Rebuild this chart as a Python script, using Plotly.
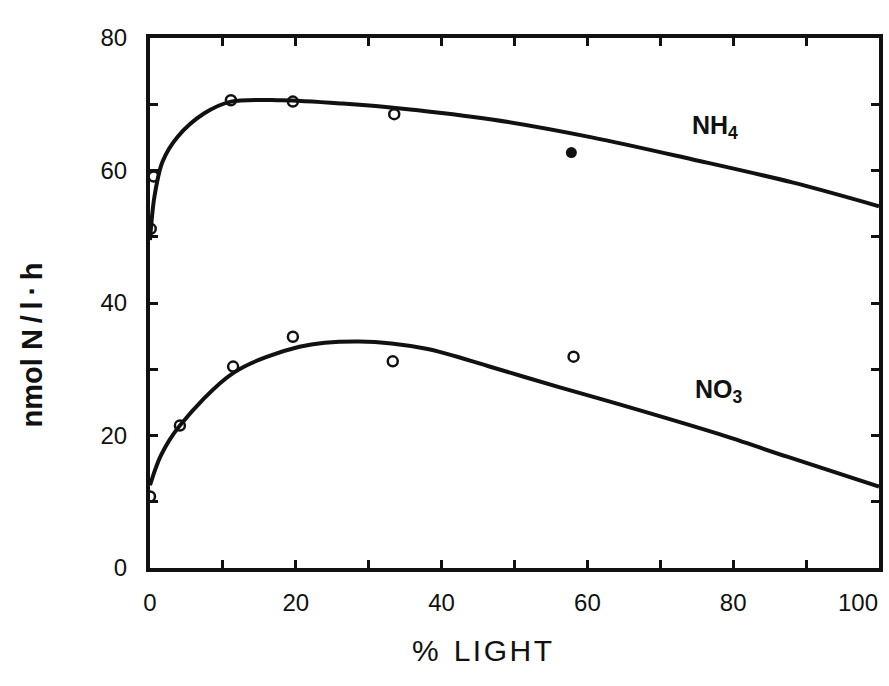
import plotly.graph_objects as go

nh4_x = [0.1, 0.5, 11.1, 19.6, 33.5]
nh4_y = [51.2, 59.1, 70.6, 70.4, 68.5]
nh4_filled_x = [57.8]
nh4_filled_y = [62.7]

no3_x = [0.0, 4.1, 11.4, 19.6, 33.3, 58.1]
no3_y = [10.8, 21.5, 30.4, 34.9, 31.2, 31.9]

# Fitted curves
nh4_curve_x = [0.0, 0.6, 1.7, 3.8, 7.4, 11.1, 18.0, 26.4, 35.0, 46.9, 60.6, 74.3, 88.1, 100.0]
nh4_curve_y = [49.5, 56.0, 61.3, 65.1, 68.6, 70.4, 70.6, 70.1, 69.3, 67.7, 65.0, 61.7, 58.2, 54.6]

no3_curve_x = [0.0, 1.5, 4.1, 11.5, 20.5, 28.7, 37.9, 46.9, 56.1, 64.4, 78.1, 87.4, 100.0]
no3_curve_y = [12.5, 17.0, 21.5, 29.5, 33.4, 34.2, 33.1, 30.3, 27.3, 24.7, 20.2, 16.8, 12.3]

x_ticks = [0, 20, 40, 60, 80]
x_labels = ["0", "20", "40", "60", "80"]
x_end_tick = [100]
x_end_label = ["100"]
y_ticks = [0, 20, 40, 60, 80]
y_labels = ["0", "20", "40", "60", "80"]

ink = "#111111"
fam = "Liberation Sans, Arial, sans-serif"

fig = go.Figure()
for cx, cy in [(nh4_curve_x, nh4_curve_y), (no3_curve_x, no3_curve_y)]:
    fig.add_trace(go.Scatter(x=cx, y=cy, mode="lines",
                             line=dict(color=ink, width=4, shape="spline", smoothing=0.9),
                             hoverinfo="skip", showlegend=False))
fig.add_trace(go.Scatter(x=nh4_x, y=nh4_y, mode="markers",
                         marker=dict(symbol="circle-open", size=10, color=ink, line=dict(width=2.5, color=ink)),
                         showlegend=False))
fig.add_trace(go.Scatter(x=nh4_filled_x, y=nh4_filled_y, mode="markers",
                         marker=dict(symbol="circle", size=11, color=ink),
                         showlegend=False))
fig.add_trace(go.Scatter(x=no3_x, y=no3_y, mode="markers",
                         marker=dict(symbol="circle-open", size=10, color=ink, line=dict(width=2.5, color=ink)),
                         showlegend=False))
# invisible helper trace so the secondary x axis (used only for the "100" label) is drawn
fig.add_trace(go.Scatter(x=x_end_tick, y=[0], xaxis="x2", mode="markers",
                         marker=dict(opacity=0), hoverinfo="skip", showlegend=False))

tickfont = dict(family=fam, size=24, color=ink)
common = dict(ticks="inside", ticklen=8, tickwidth=2.5, tickcolor=ink,
              minor=dict(dtick=10, ticks="inside", ticklen=8, tickwidth=2.5, tickcolor=ink),
              showline=True, linewidth=4, linecolor=ink, mirror="ticks",
              showgrid=False, zeroline=False, tickfont=tickfont, ticklabeloverflow="allow",
              automargin=False)

fig.update_layout(
    width=889, height=686,
    margin=dict(l=150, r=10, t=38, b=118),
    paper_bgcolor="white", plot_bgcolor="white",
    xaxis=dict(range=[0, 100], tickvals=x_ticks, ticktext=x_labels, ticklabelstandoff=10, **common),
    xaxis2=dict(range=[0, 100], overlaying="x", anchor="y", side="bottom",
                tickvals=x_end_tick, ticktext=x_end_label, ticks="", showline=False,
                showgrid=False, zeroline=False, tickfont=tickfont, ticklabelstandoff=18,
                ticklabelshift=-21, ticklabeloverflow="allow", automargin=False),
    yaxis=dict(range=[0, 80], tickvals=y_ticks, ticktext=y_labels, ticklabelstandoff=14, **common),
    annotations=[
        dict(text="%\u2002L\u200aI\u200aG\u200aH\u200aT", x=(482 - 150) / (889 - 150 - 10),
             y=-(650 - 568) / (686 - 38 - 118), xref="paper", yref="paper", showarrow=False,
             yanchor="middle", font=dict(family=fam, size=30, color=ink)),
        dict(text="<b>nmol N\u2009/\u2009l\u2009·\u2009h</b>", x=0, y=0.42, xref="paper", yref="paper",
             showarrow=False, textangle=-90, xanchor="center", yanchor="middle", xshift=-118,
             font=dict(family=fam, size=29, color=ink)),
        dict(text="<b>NH<sub>4</sub></b>", x=77.5, y=66.6, xref="x", yref="y", showarrow=False,
             font=dict(family=fam, size=25, color=ink)),
        dict(text="<b>NO<sub>3</sub></b>", x=78.0, y=26.7, xref="x", yref="y", showarrow=False,
             font=dict(family=fam, size=25, color=ink)),
    ],
)

fig.write_html("out.html", config={"displayModeBar": False},
               post_script="document.body.style.margin='0';document.body.style.overflow='hidden';")
